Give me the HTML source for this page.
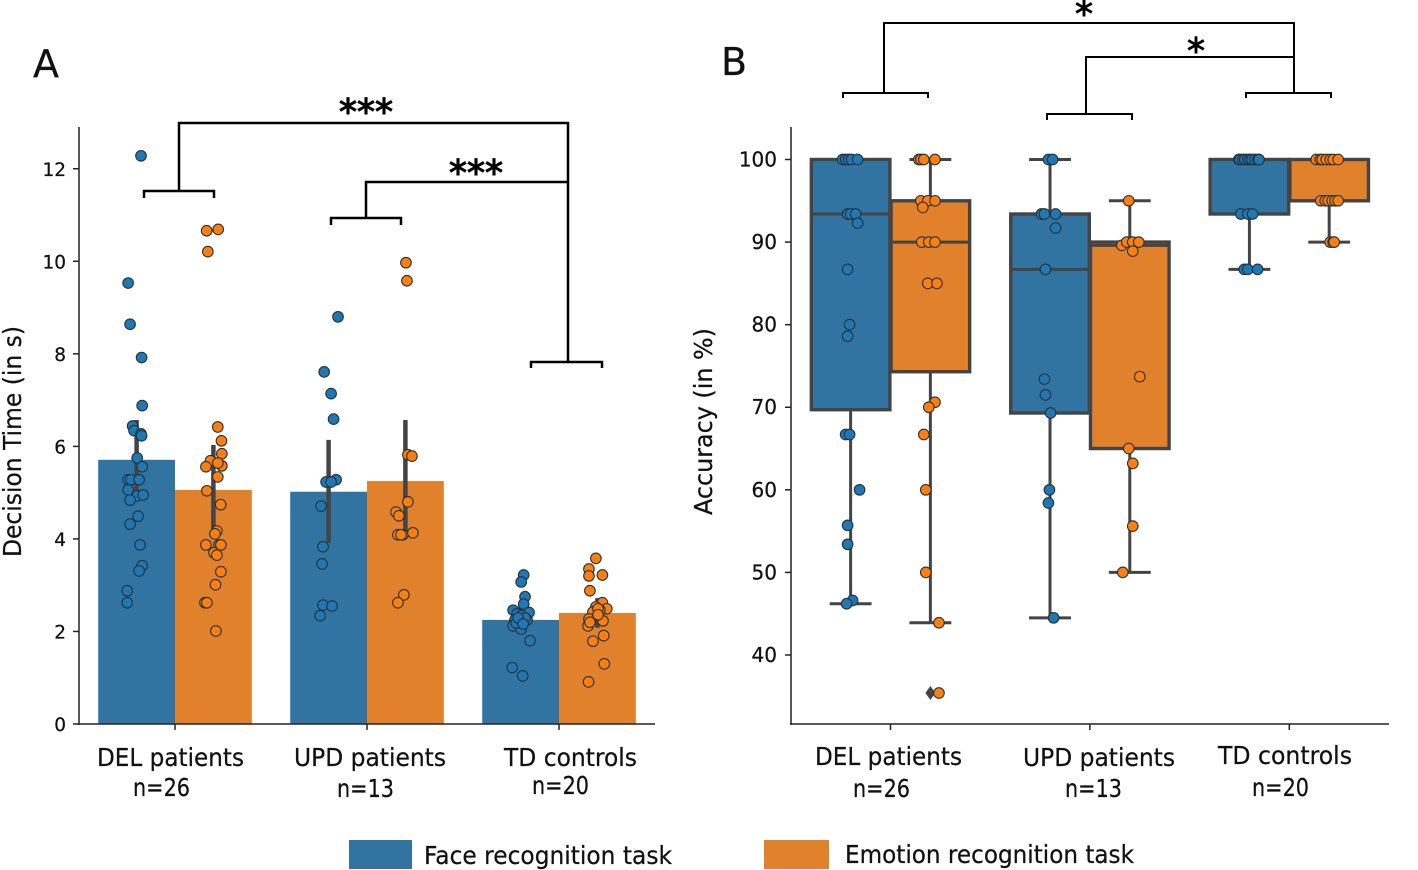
<!DOCTYPE html>
<html>
<head>
<meta charset="utf-8">
<title>Decision time and accuracy by group</title>
<style>
html,body{margin:0;padding:0;background:#fff;}
svg{display:block;}
text{font-family:"DejaVu Sans","Liberation Sans",sans-serif;fill:#111;stroke:#111;stroke-width:.25px;}
</style>
</head>
<body>
<svg id="chart" xmlns="http://www.w3.org/2000/svg" width="1418" height="870" viewBox="0 0 1418 870">
  <text x="33" y="77" font-size="38">A</text>
  <text x="721" y="75" font-size="38">B</text>
  <text transform="translate(21,557) rotate(-90)" font-size="25" textLength="231" lengthAdjust="spacingAndGlyphs">Decision Time (in s)</text>
  <text transform="translate(712,515) rotate(-90)" font-size="25" textLength="187" lengthAdjust="spacingAndGlyphs">Accuracy (in %)</text>

  <g id="plotA"></g>
  <g id="plotB"></g>

  <g font-size="25">
    <text x="97" y="766" textLength="147" lengthAdjust="spacingAndGlyphs">DEL patients</text>
    <text x="133" y="796" textLength="57" lengthAdjust="spacingAndGlyphs">n=26</text>
    <text x="294" y="766" textLength="152" lengthAdjust="spacingAndGlyphs">UPD patients</text>
    <text x="337" y="797" textLength="57" lengthAdjust="spacingAndGlyphs">n=13</text>
    <text x="504" y="766" textLength="133" lengthAdjust="spacingAndGlyphs">TD controls</text>
    <text x="532" y="794" textLength="57" lengthAdjust="spacingAndGlyphs">n=20</text>
  </g>
  <g font-size="25">
    <text x="815" y="765" textLength="147" lengthAdjust="spacingAndGlyphs">DEL patients</text>
    <text x="853" y="797" textLength="57" lengthAdjust="spacingAndGlyphs">n=26</text>
    <text x="1023" y="766" textLength="152" lengthAdjust="spacingAndGlyphs">UPD patients</text>
    <text x="1065" y="797" textLength="57" lengthAdjust="spacingAndGlyphs">n=13</text>
    <text x="1218" y="764" textLength="134" lengthAdjust="spacingAndGlyphs">TD controls</text>
    <text x="1252" y="796" textLength="57" lengthAdjust="spacingAndGlyphs">n=20</text>
  </g>

  <g fill="none" stroke="#000" stroke-width="2.5">
    <path d="M144 198V191H214V198"/>
    <path d="M331 225V218H401V225"/>
    <path d="M531 368V362H602V368"/>
    <path d="M179 191V123H568V362"/>
    <path d="M366 218V182H568"/>
  </g>
  <text x="366" y="124" font-size="36" text-anchor="middle" style="fill:#000;stroke:#000;stroke-width:1.1px">***</text>
  <text x="476" y="185" font-size="36" text-anchor="middle" style="fill:#000;stroke:#000;stroke-width:1.1px">***</text>

  <g fill="none" stroke="#000" stroke-width="2">
    <path d="M843 98V93H928V98"/>
    <path d="M1047 120V114H1132V120"/>
    <path d="M1246 98V93H1331V98"/>
    <path d="M884 93V23H1294V93"/>
    <path d="M1086 114V57H1294"/>
  </g>
  <text x="1084" y="26" font-size="36" text-anchor="middle" style="fill:#000;stroke:#000;stroke-width:.9px">*</text>
  <text x="1196" y="63" font-size="36" text-anchor="middle" style="fill:#000;stroke:#000;stroke-width:.9px">*</text>

  <g>
    <rect x="349" y="840" width="63" height="29" fill="#3274a1"/>
    <text x="424" y="864" font-size="25" textLength="248" lengthAdjust="spacingAndGlyphs">Face recognition task</text>
    <rect x="764" y="840" width="65" height="29" fill="#e1812c"/>
    <text x="845" y="863" font-size="25" textLength="289" lengthAdjust="spacingAndGlyphs">Emotion recognition task</text>
  </g>
</svg>

<script>
/* ---------- Panel A data: decision time (s) ---------- */
const categories = ['DEL patients', 'UPD patients', 'TD controls'];
const timeTicks = [0, 2, 4, 6, 8, 10, 12];
const faceMeanTime = [5.71, 5.02, 2.25];
const emotionMeanTime = [5.06, 5.25, 2.40];
const faceCiLow = [5.0, 3.91, 2.1];
const faceCiHigh = [6.57, 6.14, 2.55];
const emotionCiLow = [4.2, 4.13, 2.08];
const emotionCiHigh = [6.03, 6.57, 2.72];

const delFaceTimes = [12.28,9.53,8.64,7.92,6.88,6.44,6.34,6.27,6.23,5.75,5.56,5.28,5.28,5.28,5.06,4.93,4.95,4.84,4.49,4.32,3.87,3.42,3.31,2.88,2.62];
const delFaceTimesJitter = [.023,-.044,-.034,.026,.029,-.021,-.013,.023,.026,.003,.029,-.044,-.029,.013,-.044,.003,.034,-.034,.008,-.034,.018,.029,.013,-.049,-.049];
const delEmotionTimes = [10.66,10.69,10.21,6.42,6.12,5.84,5.58,5.69,5.56,5.64,5.34,5.04,4.74,4.17,4.11,3.87,3.87,3.87,3.70,3.65,3.29,3.01,2.62,2.62,2.01];
const delEmotionTimesJitter = [-.035,.025,-.029,.023,.042,.044,.044,-.015,-.039,.023,.023,-.034,.038,.018,.008,-.039,.029,.039,.003,.018,.039,.011,-.044,-.034,.013];
const updFaceTimes = [8.8,7.61,7.14,6.59,5.28,5.23,5.23,4.71,3.83,3.46,2.57,2.55,2.34];
const updFaceTimesJitter = [.049,-.023,.013,.026,.039,-.013,.013,-.039,-.029,-.034,-.029,.018,-.044];
const updEmotionTimes = [9.97,9.58,5.82,5.79,4.80,4.58,4.50,4.09,4.09,4.13,2.79,2.62,4.09];
const updEmotionTimesJitter = [.003,.008,.013,.034,.013,-.049,-.034,-.039,-.013,.039,-.008,-.039,-.023];
const tdFaceTimes = [3.22,3.07,2.75,2.59,2.46,2.41,2.38,2.34,2.25,2.25,2.25,2.12,2.05,1.80,1.22,1.04,2.18,2.29,2.29,2.16];
const tdFaceTimesJitter = [.016,.003,.023,.016,-.039,.044,-.018,.003,.034,.001,-.029,-.039,.003,.049,-.044,.011,-.023,.023,-.013,.013];
const tdEmotionTimes = [3.58,3.35,3.2,3.22,2.88,2.62,2.49,2.53,2.46,2.42,2.49,2.27,2.23,2.12,1.91,1.79,1.30,.91,2.36,2.2];
const tdEmotionTimesJitter = [-.008,-.044,-.044,.026,-.039,.026,.049,-.008,.013,-.023,.003,-.044,.029,-.049,.033,-.023,.036,-.046,.003,-.039];

/* ---------- Panel B data: accuracy (%) ---------- */
const accuracyTicks = [40, 50, 60, 70, 80, 90, 100];
const faceQ1 = [69.7, 69.3, 93.4];
const faceMedian = [93.4, 86.7, 100];
const faceQ3 = [100, 93.4, 100];
const faceWhiskerLow = [46.2, 44.5, 86.7];
const faceWhiskerHigh = [100, 100, 100];
const emotionQ1 = [74.3, 65, 95];
const emotionMedian = [90, 89.6, 100];
const emotionQ3 = [95, 90, 100];
const emotionWhiskerLow = [43.9, 50, 90];
const emotionWhiskerHigh = [100, 95, 100];
const emotionOutliers = [35.4];

const delFaceAcc = [100,100,100,100,100,93.4,93.4,93.4,92.3,86.7,80,78.6,66.7,66.7,60,55.7,53.4,46.6,46.2];
const delFaceAccJitter = [-.04,-.025,-.01,.005,.035,-.015,0,.025,.035,-.015,-.005,-.015,-.025,-.005,.045,-.015,-.015,.01,-.02];
const delEmotionAcc = [100,100,100,100,95,95,95,94.2,90,90,90,85,85,70.6,70,66.7,60,50,43.9,35.4];
const delEmotionAccJitter = [-.058,-.048,-.033,.023,-.048,-.013,.023,-.038,-.043,-.008,.023,-.013,.033,.023,-.008,-.033,-.023,-.023,.043,.043];
const updFaceAcc = [100,100,93.4,93.4,93.4,91.7,86.7,73.4,71.5,69.3,60,58.4,44.5];
const updFaceAccJitter = [-.008,.013,-.043,-.028,.028,.028,-.023,-.028,-.023,.003,-.003,-.008,.018];
const updEmotionAcc = [95,89.6,90,90,90,88.9,73.7,65,63.2,55.6,50];
const updEmotionAccJitter = [-.005,-.04,-.015,.015,.045,.015,.05,-.005,.015,.015,-.035];
const tdFaceAcc = [100,100,100,100,100,100,100,100,100,100,93.4,93.4,93.4,86.7,86.7,86.7];
const tdFaceAccJitter = [-.053,-.048,-.033,-.023,-.008,.003,.013,.028,.043,.048,-.043,-.008,.016,-.026,-.008,.041];
const tdEmotionAcc = [100,100,100,100,100,100,100,95,95,95,95,95,95,90,90,90];
const tdEmotionAccJitter = [-.065,-.045,-.035,-.015,.005,.02,.045,-.042,-.02,-.005,.015,.03,.045,.005,.02,.025];

/* ---------- Colours ---------- */
const FACE_FILL = '#3274a1', EMO_FILL = '#e1812c';
const FACE_DOT = '#1f77b4', EMO_DOT = '#ff7f0e';
const GREY = '#444444';
const SVG_NS = 'http://www.w3.org/2000/svg';

function el(parent, tag, attrs) {
  const node = document.createElementNS(SVG_NS, tag);
  for (const key in attrs) node.setAttribute(key, attrs[key]);
  parent.appendChild(node);
  return node;
}

/* ---------- Axis functions ---------- */
function yA(v) { return 724 - v * 46.27; }
function catA(i) { return 175 + i * 192; }
function hueA(i, hue) { return catA(i) + (hue - 0.5) * 0.4 * 192; }
function yB(v) { return 159.5 + (100 - v) * 8.258; }
function catB(i) { return 890.5 + i * 199.4; }
function hueB(i, hue) { return catB(i) + (hue - 0.5) * 0.4 * 199.4; }

/* ---------- Panel A ---------- */
const plotA = document.getElementById('plotA');

categories.forEach(function (c, i) {
  [[faceMeanTime, FACE_FILL, 0], [emotionMeanTime, EMO_FILL, 1]].forEach(function (s) {
    const bar = el(plotA, 'rect', {
      x: hueA(i, s[2]) - 0.2 * 192,
      y: yA(s[0][i]),
      width: 0.4 * 192,
      height: yA(0) - yA(s[0][i]),
      fill: s[1]
    });
    
    
  });
});

categories.forEach(function (c, i) {
  [[faceCiLow, faceCiHigh, 0], [emotionCiLow, emotionCiHigh, 1]].forEach(function (s) {
    const err = el(plotA, 'line', {
      x1: hueA(i, s[2]), x2: hueA(i, s[2]),
      y1: yA(s[0][i]), y2: yA(s[1][i]),
      stroke: GREY, 'stroke-width': 4.5
    });
    
    
  });
});

function dotsA(values, jitter, cat, hue, color) {
  values.forEach(function (v, k) {
    const dot = el(plotA, 'circle', {
      cx: hueA(cat, hue) + (jitter[k] || 0) * 192,
      cy: yA(v), r: 5.3, fill: color, stroke: '#263238', 'stroke-width': 1.1
    });
    
    
  });
}
dotsA(delFaceTimes, delFaceTimesJitter, 0, 0, FACE_DOT);
dotsA(delEmotionTimes, delEmotionTimesJitter, 0, 1, EMO_DOT);
dotsA(updFaceTimes, updFaceTimesJitter, 1, 0, FACE_DOT);
dotsA(updEmotionTimes, updEmotionTimesJitter, 1, 1, EMO_DOT);
dotsA(tdFaceTimes, tdFaceTimesJitter, 2, 0, FACE_DOT);
dotsA(tdEmotionTimes, tdEmotionTimesJitter, 2, 1, EMO_DOT);

/* Panel A axes */
const spineAy = el(plotA, 'line', { x1: 79, x2: 79, y1: 127, y2: 725, stroke: '#222', 'stroke-width': 1.5 });


const spineAx = el(plotA, 'line', { x1: 78, x2: 655, y1: 724, y2: 724, stroke: '#222', 'stroke-width': 1.5 });



timeTicks.forEach(function (t) {
  const tick = el(plotA, 'line', { x1: 73, x2: 79, y1: yA(t), y2: yA(t), stroke: '#222', 'stroke-width': 1.5 });
  
  
  const label = el(plotA, 'text', { x: 66, y: yA(t) + 7, 'font-size': 18.5, 'text-anchor': 'end' });
  label.textContent = t;
  
  
});
categories.forEach(function (c, i) {
  const tick = el(plotA, 'line', { x1: catA(i), x2: catA(i), y1: 724, y2: 730, stroke: '#222', 'stroke-width': 1.5 });
  
  
});

/* ---------- Panel B ---------- */
const plotB = document.getElementById('plotB');

function box(i, hue, fill, q1, med, q3, lo, hi) {
  const cx = hueB(i, hue), half = 0.197 * 199.4, capHalf = 0.105 * 199.4;
  const attrs = { stroke: GREY, 'stroke-width': 3 };
  const whiskLow = el(plotB, 'line', Object.assign({ x1: cx, x2: cx, y1: yB(q1[i]), y2: yB(lo[i]) }, attrs));
  
  
  const whiskHigh = el(plotB, 'line', Object.assign({ x1: cx, x2: cx, y1: yB(q3[i]), y2: yB(hi[i]) }, attrs));
  
  
  const capLow = el(plotB, 'line', Object.assign({ x1: cx - capHalf, x2: cx + capHalf, y1: yB(lo[i]), y2: yB(lo[i]) }, attrs));
  
  
  const capHigh = el(plotB, 'line', Object.assign({ x1: cx - capHalf, x2: cx + capHalf, y1: yB(hi[i]), y2: yB(hi[i]) }, attrs));
  
  
  const rect = el(plotB, 'rect', {
    x: cx - half, y: yB(q3[i]), width: half * 2, height: yB(q1[i]) - yB(q3[i]),
    fill: fill, stroke: GREY, 'stroke-width': 3.4
  });
  
  
  const median = el(plotB, 'line', Object.assign({ x1: cx - half, x2: cx + half, y1: yB(med[i]), y2: yB(med[i]) }, attrs));
  
  
}
categories.forEach(function (c, i) {
  box(i, 0, FACE_FILL, faceQ1, faceMedian, faceQ3, faceWhiskerLow, faceWhiskerHigh);
  box(i, 1, EMO_FILL, emotionQ1, emotionMedian, emotionQ3, emotionWhiskerLow, emotionWhiskerHigh);
});

emotionOutliers.forEach(function (v) {
  const cx = hueB(0, 1), cy = yB(v);
  const flier = el(plotB, 'polygon', {
    points: [cx, cy - 7, cx + 5, cy, cx, cy + 7, cx - 5, cy].join(' '),
    fill: GREY
  });
  
  
});

function dotsB(values, jitter, cat, hue, color) {
  values.forEach(function (v, k) {
    const dot = el(plotB, 'circle', {
      cx: hueB(cat, hue) + (jitter[k] || 0) * 199.4,
      cy: yB(v), r: 5.3, fill: color, stroke: '#263238', 'stroke-width': 1.1
    });
    
    
  });
}
dotsB(delFaceAcc, delFaceAccJitter, 0, 0, FACE_DOT);
dotsB(delEmotionAcc, delEmotionAccJitter, 0, 1, EMO_DOT);
dotsB(updFaceAcc, updFaceAccJitter, 1, 0, FACE_DOT);
dotsB(updEmotionAcc, updEmotionAccJitter, 1, 1, EMO_DOT);
dotsB(tdFaceAcc, tdFaceAccJitter, 2, 0, FACE_DOT);
dotsB(tdEmotionAcc, tdEmotionAccJitter, 2, 1, EMO_DOT);

/* Panel B axes */
const spineBy = el(plotB, 'line', { x1: 791, x2: 791, y1: 127, y2: 725, stroke: '#222', 'stroke-width': 1.5 });


const spineBx = el(plotB, 'line', { x1: 790, x2: 1389, y1: 724, y2: 724, stroke: '#222', 'stroke-width': 1.5 });



accuracyTicks.forEach(function (t) {
  const tick = el(plotB, 'line', { x1: 785, x2: 791, y1: yB(t), y2: yB(t), stroke: '#222', 'stroke-width': 1.5 });
  
  
  const label = el(plotB, 'text', { x: 777, y: yB(t) + 7, 'font-size': 20, 'text-anchor': 'end' });
  label.textContent = t;
  
  
});
categories.forEach(function (c, i) {
  const tick = el(plotB, 'line', { x1: catB(i), x2: catB(i), y1: 724, y2: 730, stroke: '#222', 'stroke-width': 1.5 });
  
  
});
</script>
</body>
</html>
